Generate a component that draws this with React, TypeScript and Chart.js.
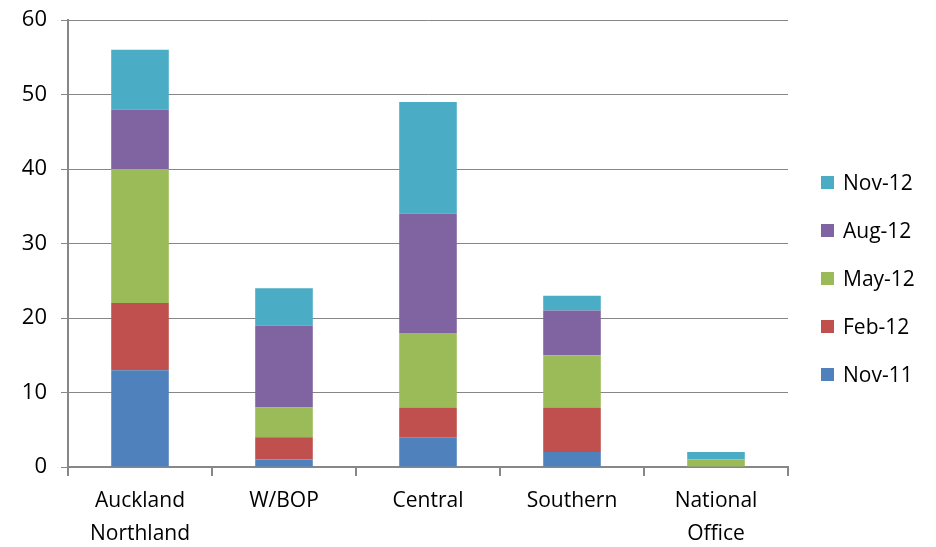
import React, { useEffect, useRef } from "react";
import { Chart, registerables } from "chart.js";

Chart.register(...registerables);

const categories: (string | string[])[] = [
  ["Auckland", "Northland"],
  "W/BOP",
  "Central",
  "Southern",
  ["National", "Office"],
];
const nov11 = [13, 1, 4, 2, 0];
const feb12 = [9, 3, 4, 6, 0];
const may12 = [18, 4, 10, 7, 1];
const aug12 = [8, 11, 16, 6, 0];
const nov12 = [8, 5, 15, 2, 1];
const seriesLabels = ["Nov-11", "Feb-12", "May-12", "Aug-12", "Nov-12"];
const seriesColors = ["#4F81BD", "#C0504D", "#9BBB59", "#8064A2", "#4BACC6"];

const FONT = "'Open Sans', 'Liberation Sans', sans-serif";
const GRID = "#878787";

const legendPlugin = {
  id: "customLegend",
  afterDraw(chart: any) {
    const ctx = chart.ctx;
    const ds = chart.data.datasets;
    const x0 = chart.chartArea.right + 33;
    const yTop = 183;
    const step = 48;
    ctx.save();
    ctx.font = `21px ${FONT}`;
    ctx.textBaseline = "middle";
    for (let i = ds.length - 1, k = 0; i >= 0; i--, k++) {
      const y = yTop + k * step;
      ctx.fillStyle = ds[i].backgroundColor;
      ctx.fillRect(x0, y - 7, 13, 13);
      ctx.fillStyle = "#000";
      ctx.fillText(ds[i].label, x0 + 22, y + 1);
    }
    ctx.restore();
  },
};

export default function App() {
  const ref = useRef<HTMLCanvasElement>(null);
  useEffect(() => {
    const values = [nov11, feb12, may12, aug12, nov12];
    const chart = new Chart(ref.current!, {
      type: "bar",
      data: {
        labels: categories,
        datasets: values.map((v, i) => ({
          label: seriesLabels[i],
          data: v,
          backgroundColor: seriesColors[i],
          borderWidth: 0,
          barPercentage: 0.4,
          categoryPercentage: 1,
        })),
      },
      options: {
        animation: false,
        responsive: false,
        maintainAspectRatio: false,
        layout: { padding: { left: 0, top: 20, right: 148, bottom: 0 } },
        plugins: { legend: { display: false }, tooltip: { enabled: false } },
        scales: {
          x: {
            stacked: true,
            offset: true,
            afterFit: (s: any) => {
              s.height = 80;
              s.paddingLeft = 0;
              s.paddingRight = 0;
            },
            grid: {
              offset: true,
              drawOnChartArea: false,
              drawTicks: true,
              tickLength: 9,
              color: GRID,
              lineWidth: 2,
            },
            border: { color: GRID, width: 2 },
            ticks: {
              color: "#000",
              font: { family: FONT, size: 21, lineHeight: 1.55 },
              padding: 9,
              maxRotation: 0,
              autoSkip: false,
            },
          },
          y: {
            stacked: true,
            min: 0,
            max: 60,
            afterFit: (s: any) => {
              s.width = 68;
              s.paddingTop = 0;
              s.paddingBottom = 0;
            },
            grid: {
              color: GRID,
              lineWidth: 1,
              tickLength: 7,
            },
            border: { color: GRID, width: 2 },
            ticks: {
              stepSize: 10,
              color: "#000",
              font: { family: FONT, size: 22 },
              padding: 14,
            },
          },
        },
      },
      plugins: [legendPlugin],
    });
    return () => chart.destroy();
  }, []);
  return (
    <div style={{ position: "fixed", left: 0, top: 0, width: 936, height: 547, background: "#fff" }}>
      <canvas ref={ref} width={936} height={547} style={{ display: "block" }} />
    </div>
  );
}
